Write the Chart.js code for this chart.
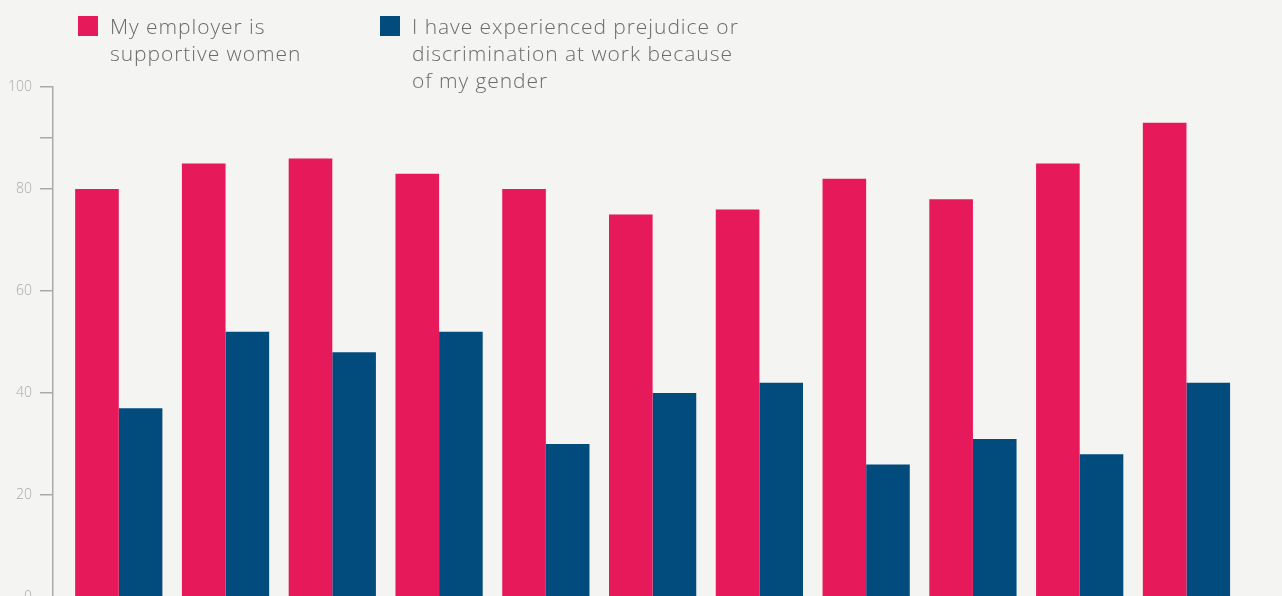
<!DOCTYPE html>
<html>
<head>
<meta charset="utf-8">
<script src="https://cdn.jsdelivr.net/npm/chart.js@4"></script>
<style>
  html, body { margin:0; padding:0; background:#f4f4f2; overflow:hidden; width:1282px; height:596px; }
  #wrap { position:relative; width:1282px; height:620px; }
  canvas { position:absolute; left:0; top:0; }
  .lg { position:absolute; top:13px; font-family:"Open Sans", sans-serif; font-weight:300; font-size:21px; line-height:27px; letter-spacing:0.95px; color:#6b6b6b; }
  .sw { position:absolute; top:16px; width:20px; height:20px; }
</style>
</head>
<body>
<div id="wrap">
  <canvas id="c" width="1282" height="620"></canvas>
  <div class="sw" style="left:78px;background:#e6195a"></div>
  <div class="lg" style="left:110px">My employer is<br>supportive women</div>
  <div class="sw" style="left:380px;background:#024b7d"></div>
  <div class="lg" style="left:412px">I have experienced prejudice or<br>discrimination at work because<br>of my gender</div>
</div>
<script>
const categories = ["1","2","3","4","5","6","7","8","9","10","11"];
const supportive = [80, 85, 86, 83, 80, 75, 76, 82, 78, 85, 93];
const discrimination = [37, 52, 48, 52, 30, 40, 42, 26, 31, 28, 42];
const yTicks = [0, 20, 40, 60, 80, 90, 100];
const yLabelled = [0, 20, 40, 60, 80, 100];

const toPoints = arr => arr.map((v, i) => ({ x: i, y: v }));

new Chart(document.getElementById('c'), {
  type: 'bar',
  data: {
    labels: categories,
    datasets: [
      { label: 'My employer is supportive women', data: toPoints(supportive), backgroundColor: '#e6195a' },
      { label: 'I have experienced prejudice or discrimination at work because of my gender', data: toPoints(discrimination), backgroundColor: '#024b7d' }
    ]
  },
  options: {
    responsive: false,
    animation: false,
    categoryPercentage: 0.817,
    barPercentage: 1,
    layout: { padding: { top: 87, bottom: 23, right: 2, left: 0 } },
    plugins: { legend: { display: false }, tooltip: { enabled: false } },
    scales: {
      x: {
        type: 'linear',
        min: -0.616,
        max: 10.876,
        display: false,
        offset: false,
        afterBuildTicks: s => { s.ticks = categories.map((_, i) => ({ value: i })); }
      },
      y: {
        min: 0,
        max: 100,
        afterBuildTicks: s => { s.ticks = yTicks.map(v => ({ value: v })); },
        afterFit: s => { s.width = 53; },
        ticks: {
          callback: v => yLabelled.includes(v) ? String(v) : '',
          color: '#aaaaaa',
          font: { family: 'Open Sans', size: 14, weight: 300 },
          padding: 8
        },
        grid: { drawOnChartArea: false, drawTicks: true, tickLength: 13, color: '#aaaaaa', lineWidth: 1.5 },
        border: { color: '#aaaaaa', width: 1.5 }
      }
    }
  }
});
</script>
</body>
</html>
